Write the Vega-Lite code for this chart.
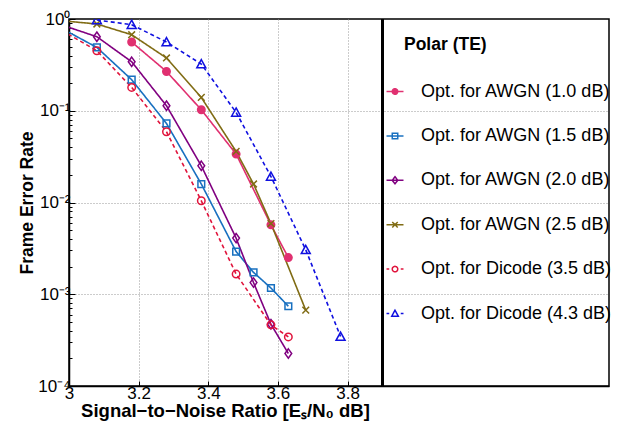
{
  "$schema": "https://vega.github.io/schema/vega-lite/v6.json",
  "autosize": "none",
  "width": 540,
  "height": 367,
  "padding": {"top": 19, "left": 69, "right": 14, "bottom": 37},
  "background": "white",
  "config": {
    "font": "Liberation Sans",
    "view": {"stroke": "black", "strokeWidth": 1.5},
    "axis": {"domainColor": "black", "domainWidth": 1.5, "tickColor": "black", "labelColor": "black", "titleColor": "black", "labelFont": "Liberation Sans", "titleFont": "Liberation Sans"}
  },
  "data": {
    "values": [
      {"series": "Opt. for AWGN (1.0 dB)", "snr": 3.18, "fer": 0.561},
      {"series": "Opt. for AWGN (1.0 dB)", "snr": 3.28, "fer": 0.268},
      {"series": "Opt. for AWGN (1.0 dB)", "snr": 3.38, "fer": 0.1025},
      {"series": "Opt. for AWGN (1.0 dB)", "snr": 3.48, "fer": 0.0337},
      {"series": "Opt. for AWGN (1.0 dB)", "snr": 3.58, "fer": 0.00571},
      {"series": "Opt. for AWGN (1.0 dB)", "snr": 3.63, "fer": 0.00251},

      {"series": "Opt. for AWGN (1.5 dB)", "snr": 2.98, "fer": 0.785},
      {"series": "Opt. for AWGN (1.5 dB)", "snr": 3.08, "fer": 0.49},
      {"series": "Opt. for AWGN (1.5 dB)", "snr": 3.18, "fer": 0.218},
      {"series": "Opt. for AWGN (1.5 dB)", "snr": 3.28, "fer": 0.0727},
      {"series": "Opt. for AWGN (1.5 dB)", "snr": 3.38, "fer": 0.0159},
      {"series": "Opt. for AWGN (1.5 dB)", "snr": 3.48, "fer": 0.00292},
      {"series": "Opt. for AWGN (1.5 dB)", "snr": 3.53, "fer": 0.00173},
      {"series": "Opt. for AWGN (1.5 dB)", "snr": 3.58, "fer": 0.00117},
      {"series": "Opt. for AWGN (1.5 dB)", "snr": 3.63, "fer": 0.00074},

      {"series": "Opt. for AWGN (2.0 dB)", "snr": 2.98, "fer": 0.859},
      {"series": "Opt. for AWGN (2.0 dB)", "snr": 3.08, "fer": 0.641},
      {"series": "Opt. for AWGN (2.0 dB)", "snr": 3.18, "fer": 0.342},
      {"series": "Opt. for AWGN (2.0 dB)", "snr": 3.28, "fer": 0.1134},
      {"series": "Opt. for AWGN (2.0 dB)", "snr": 3.38, "fer": 0.0251},
      {"series": "Opt. for AWGN (2.0 dB)", "snr": 3.48, "fer": 0.00409},
      {"series": "Opt. for AWGN (2.0 dB)", "snr": 3.53, "fer": 0.00134},
      {"series": "Opt. for AWGN (2.0 dB)", "snr": 3.58, "fer": 0.000472},
      {"series": "Opt. for AWGN (2.0 dB)", "snr": 3.63, "fer": 0.000226},

      {"series": "Opt. for AWGN (2.5 dB)", "snr": 2.98, "fer": 0.957},
      {"series": "Opt. for AWGN (2.5 dB)", "snr": 3.08, "fer": 0.882},
      {"series": "Opt. for AWGN (2.5 dB)", "snr": 3.18, "fer": 0.674},
      {"series": "Opt. for AWGN (2.5 dB)", "snr": 3.28, "fer": 0.376},
      {"series": "Opt. for AWGN (2.5 dB)", "snr": 3.38, "fer": 0.1396},
      {"series": "Opt. for AWGN (2.5 dB)", "snr": 3.48, "fer": 0.036},
      {"series": "Opt. for AWGN (2.5 dB)", "snr": 3.53, "fer": 0.0159},
      {"series": "Opt. for AWGN (2.5 dB)", "snr": 3.58, "fer": 0.0059},
      {"series": "Opt. for AWGN (2.5 dB)", "snr": 3.68, "fer": 0.00067},

      {"series": "Opt. for Dicode (3.5 dB)", "snr": 2.98, "fer": 0.746},
      {"series": "Opt. for Dicode (3.5 dB)", "snr": 3.08, "fer": 0.451},
      {"series": "Opt. for Dicode (3.5 dB)", "snr": 3.18, "fer": 0.1795},
      {"series": "Opt. for Dicode (3.5 dB)", "snr": 3.28, "fer": 0.059},
      {"series": "Opt. for Dicode (3.5 dB)", "snr": 3.38, "fer": 0.01044},
      {"series": "Opt. for Dicode (3.5 dB)", "snr": 3.48, "fer": 0.00166},
      {"series": "Opt. for Dicode (3.5 dB)", "snr": 3.58, "fer": 0.000464},
      {"series": "Opt. for Dicode (3.5 dB)", "snr": 3.63, "fer": 0.000343},

      {"series": "Opt. for Dicode (4.3 dB)", "snr": 3.08, "fer": 0.975},
      {"series": "Opt. for Dicode (4.3 dB)", "snr": 3.18, "fer": 0.867},
      {"series": "Opt. for Dicode (4.3 dB)", "snr": 3.28, "fer": 0.561},
      {"series": "Opt. for Dicode (4.3 dB)", "snr": 3.38, "fer": 0.323},
      {"series": "Opt. for Dicode (4.3 dB)", "snr": 3.48, "fer": 0.0958},
      {"series": "Opt. for Dicode (4.3 dB)", "snr": 3.58, "fer": 0.0192},
      {"series": "Opt. for Dicode (4.3 dB)", "snr": 3.68, "fer": 0.00305},
      {"series": "Opt. for Dicode (4.3 dB)", "snr": 3.78, "fer": 0.000346}
    ]
  },
  "encoding": {
    "x": {
      "field": "snr", "type": "quantitative",
      "scale": {"domain": [3, 4.551], "nice": false, "zero": false},
      "axis": {
        "values": [3, 3.2, 3.4, 3.6, 3.8],
        "labelExpr": "datum.value == 3 ? '3' : format(datum.value, '.1f')",
        "labelFlush": false, "labelOverlap": false,
        "labelFontSize": 17, "labelPadding": 4,
        "tickSize": -5, "tickWidth": 1,
        "grid": true, "gridDash": [1, 2], "gridColor": "#999999", "gridWidth": 1,
        "title": "Signal−to−Noise Ratio [Eₛ/N₀ dB]",
        "titleFontSize": 18.5, "titleFontWeight": "bold",
        "titleX": 156, "titleY": 30, "titleAlign": "center", "titleBaseline": "alphabetic", "titleAnchor": null
      }
    },
    "y": {
      "field": "fer", "type": "quantitative",
      "scale": {"type": "log", "domain": [0.0001, 1], "nice": false},
      "axis": {
        "values": [0.0001, 0.0002, 0.0003, 0.0004, 0.0005, 0.0006, 0.0007, 0.0008, 0.0009, 0.001, 0.002, 0.003, 0.004, 0.005, 0.006, 0.007, 0.008, 0.009, 0.01, 0.02, 0.03, 0.04, 0.05, 0.06, 0.07, 0.08, 0.09, 0.1, 0.2, 0.3, 0.4, 0.5, 0.6, 0.7, 0.8, 0.9, 1],
        "labelExpr": "datum.value == 1 ? '10⁰' : datum.value == 0.1 ? '10⁻¹' : datum.value == 0.01 ? '10⁻²' : datum.value == 0.001 ? '10⁻³' : datum.value == 0.0001 ? '10⁻⁴' : ''",
        "labelOverlap": false, "labelFlush": false,
        "labelFontSize": 17, "labelPadding": 5,
        "tickSize": {"condition": {"test": "indexof([1, 0.1, 0.01, 0.001, 0.0001], datum.value) >= 0", "value": -6}, "value": -3},
        "grid": true, "gridDash": [1, 2], "gridColor": "#999999", "gridWidth": 1,
        "gridOpacity": {"condition": {"test": "indexof([0.1, 0.01, 0.001], datum.value) >= 0", "value": 1}, "value": 0},
        "title": "Frame Error Rate", "titleFontSize": 17.5, "titleFontWeight": "bold", "titlePadding": 1
      }
    }
  },
  "layer": [
    {
      "mark": {"type": "rule", "color": "black", "strokeWidth": 1.5},
      "encoding": {"x": {"datum": 3.9}, "y": null}
    },
    {
      "mark": {"type": "line", "strokeWidth": 1.6, "clip": true},
      "encoding": {
        "color": {
          "field": "series", "type": "nominal",
          "scale": {
            "domain": ["Opt. for AWGN (1.0 dB)", "Opt. for AWGN (1.5 dB)", "Opt. for AWGN (2.0 dB)", "Opt. for AWGN (2.5 dB)", "Opt. for Dicode (3.5 dB)", "Opt. for Dicode (4.3 dB)"],
            "range": ["#E03070", "#1870C0", "#800080", "#806C14", "#E0143C", "#1010E0"]
          },
          "legend": {
            "orient": "none", "legendX": 317, "legendY": 17,
            "title": "Polar (TE)", "titleFontSize": 17.5, "titleFontWeight": "bold", "titleColor": "black", "titlePadding": 29,
            "labelFontSize": 18, "labelColor": "black", "labelOffset": 17, "labelLimit": 400,
            "rowPadding": 26.4, "symbolSize": 30, "padding": 0,
            "encode": {
              "title": {"update": {"dx": {"value": 18}}},
              "symbols": {"update": {
                "shape": {"signal": "['M-3.1,0L3.1,0M1,0A1,1,0,1,1,-1,0A1,1,0,1,1,1,0Z', 'M-3.1,0L3.1,0M-1,-1H1V1H-1Z', 'M-3.1,0L3.1,0M0,-1.3L1,0L0,1.3L-1,0Z', 'M-3.1,0L3.1,0M-1,-1L1,1M-1,1L1,-1', 'M-3.1,0L-2.1,0M2.1,0L3.1,0M1,0A1,1,0,1,1,-1,0A1,1,0,1,1,1,0Z', 'M-3.1,0L-2.1,0M2.1,0L3.1,0M0,-1.2L1.2,1L-1.2,1Z'][indexof(domain('color'), datum.value)]"},
                "fill": {"signal": "datum.value === 'Opt. for AWGN (1.0 dB)' ? '#E03070' : 'transparent'"},
                "strokeWidth": {"value": 1.5},
                "strokeDash": {"value": [1, 0]},
                "size": {"value": 30},
                "opacity": {"value": 1}
              }}
            }
          }
        },
        "strokeDash": {
          "field": "series", "type": "nominal",
          "scale": {
            "domain": ["Opt. for Dicode (4.3 dB)", "Opt. for Dicode (3.5 dB)", "Opt. for AWGN (2.5 dB)", "Opt. for AWGN (2.0 dB)", "Opt. for AWGN (1.5 dB)", "Opt. for AWGN (1.0 dB)"],
            "range": [[4, 3], [4, 3], [1, 0], [1, 0], [1, 0], [1, 0]]
          },
          "legend": null
        }
      }
    },
    {
      "mark": {"type": "point", "size": 56, "strokeWidth": 1.5, "opacity": 1, "clip": true},
      "encoding": {
        "stroke": {
          "field": "series", "type": "nominal",
          "scale": {
            "domain": ["Opt. for AWGN (1.5 dB)", "Opt. for AWGN (2.0 dB)", "Opt. for AWGN (2.5 dB)", "Opt. for Dicode (3.5 dB)", "Opt. for Dicode (4.3 dB)", "Opt. for AWGN (1.0 dB)"],
            "range": ["#1870C0", "#800080", "#806C14", "#E0143C", "#1010E0", "#E03070"]
          },
          "legend": null
        },
        "fill": {
          "field": "series", "type": "nominal",
          "scale": {
            "domain": ["Opt. for AWGN (2.0 dB)", "Opt. for AWGN (2.5 dB)", "Opt. for Dicode (3.5 dB)", "Opt. for Dicode (4.3 dB)", "Opt. for AWGN (1.0 dB)", "Opt. for AWGN (1.5 dB)"],
            "range": ["transparent", "transparent", "transparent", "transparent", "#E03070", "transparent"]
          },
          "legend": null
        },
        "shape": {
          "field": "series", "type": "nominal",
          "scale": {
            "domain": ["Opt. for AWGN (2.5 dB)", "Opt. for Dicode (3.5 dB)", "Opt. for Dicode (4.3 dB)", "Opt. for AWGN (1.0 dB)", "Opt. for AWGN (1.5 dB)", "Opt. for AWGN (2.0 dB)"],
            "range": ["M-0.9,-0.9L0.9,0.9M-0.9,0.9L0.9,-0.9", "M1,0A1,1,0,1,1,-1,0A1,1,0,1,1,1,0Z", "M0,-1.2L1.2,1L-1.2,1Z", "M1,0A1,1,0,1,1,-1,0A1,1,0,1,1,1,0Z", "M-0.9,-0.9H0.9V0.9H-0.9Z", "M0,-1.25L0.9,0L0,1.25L-0.9,0Z"]
          },
          "legend": null
        }
      }
    }
  ]
}
